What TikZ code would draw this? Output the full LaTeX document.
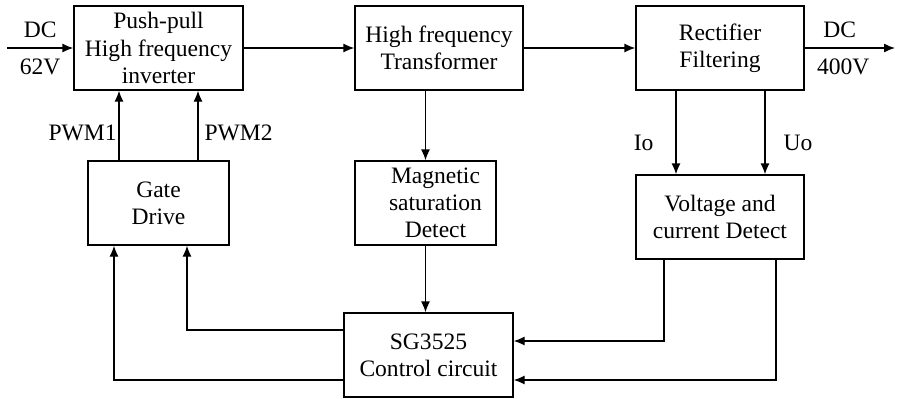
\documentclass[tikz,border=0pt]{standalone}
\usepackage{fontspec}
\setmainfont{Liberation Serif}
\usetikzlibrary{arrows.meta,positioning,calc}

\begin{document}
\begin{tikzpicture}[font=\fontsize{13.4}{15.4}\selectfont,line width=0.75pt,
  blk/.style={draw,align=center,minimum height=1.68cm,inner sep=1pt},
  >={Latex[length=2.2mm,width=1.8mm]}]
\useasboundingbox (0,0) rectangle (17.94,-7.96);
% top row
\node[blk,minimum width=3.38cm] (inv) at (3.17,-0.96) {Push-pull\\High frequency\\inverter};
\node[blk,minimum width=3.36cm] (tr) at (8.78,-0.96) {High frequency\\Transformer};
\node[blk,minimum width=3.36cm] (rect) at (14.40,-0.96) {Rectifier\\Filtering};
% middle row
\node[blk,minimum width=2.82cm] (gate) at (3.17,-4.06) {Gate\\Drive};
\node[blk,minimum width=2.82cm] (mag) at (8.51,-4.06) {\hspace*{0.4cm}Magnetic\\\hspace*{0.4cm}saturation\\\hspace*{0.4cm}Detect};
\node[blk,minimum width=3.36cm] (vc) at (14.40,-4.34) {Voltage and\\current Detect};
% bottom
\node[blk,minimum width=3.38cm] (sg) at (8.57,-7.10) {SG3525\\Control circuit};
\coordinate (dcin) at (0.14,-0.96);
\coordinate (dcout) at (17.90,-0.96);
% power path
\draw[->] (dcin) -- node[above=0.08cm]{DC} node[below=0.08cm]{62V} (inv);
\draw[->] (inv) -- (tr);
\draw[->] (tr) -- (rect);
\draw[->] (rect) -- node[above=0.08cm,xshift=-0.2cm]{DC} node[below=0.08cm,xshift=-0.13cm]{400V} (dcout);
% feedback
\draw[->] (mag.north |- tr.south) -- (mag.north);
\draw[->] (mag.south) -- (mag.south |- sg.north);
\draw[->] ([xshift=-0.88cm]rect.south) -- node[pos=0.62,left=0.32cm]{Io} ([xshift=-0.88cm]vc.north);
\draw[->] ([xshift=0.9cm]rect.south) -- node[pos=0.62,right=0.24cm]{Uo} ([xshift=0.9cm]vc.north);
\draw[->] ([xshift=-1.12cm]vc.south) |- ([yshift=0.28cm]sg.east);
\draw[->] ([xshift=1.12cm]vc.south) |- ([yshift=-0.5cm]sg.east);
\draw[->] ([yshift=0.5cm]sg.west) -| ([xshift=0.57cm]gate.south);
\draw[->] ([yshift=-0.5cm]sg.west) -| ([xshift=-0.89cm]gate.south);
\draw[->] ([xshift=-0.79cm]gate.north) -- node[pos=0.4,left,inner sep=1pt]{PWM1} ([xshift=-0.79cm]inv.south);
\draw[->] ([xshift=0.79cm]gate.north) -- node[pos=0.4,right]{PWM2} ([xshift=0.79cm]inv.south);
\end{tikzpicture}
\end{document}
